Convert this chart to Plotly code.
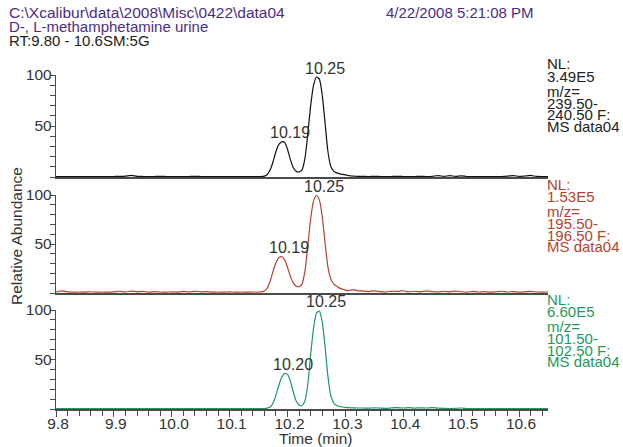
import plotly.graph_objects as go

# ---------------- data ----------------
time_min = [
    9.80, 9.81, 9.82, 9.83, 9.84, 9.85, 9.86, 9.87, 9.88, 9.89,
    9.90, 9.91, 9.92, 9.93, 9.94, 9.95, 9.96, 9.97, 9.98, 9.99,
    10.00, 10.01, 10.02, 10.03, 10.04, 10.05, 10.06, 10.07, 10.08, 10.09,
    10.10, 10.11, 10.12, 10.13, 10.14,
    10.150, 10.155, 10.160, 10.165, 10.170, 10.175, 10.180, 10.185, 10.190, 10.195,
    10.200, 10.205, 10.210, 10.215, 10.220, 10.225, 10.230, 10.235, 10.240, 10.245,
    10.250, 10.255, 10.260, 10.265, 10.270, 10.275, 10.280, 10.285, 10.290, 10.295,
    10.300, 10.305, 10.310, 10.315, 10.320,
    10.33, 10.34, 10.35, 10.36, 10.37, 10.38, 10.39, 10.40, 10.41, 10.42,
    10.43, 10.44, 10.45, 10.46, 10.47, 10.48, 10.49, 10.50, 10.51, 10.52,
    10.53, 10.54, 10.55, 10.56, 10.57, 10.58, 10.59, 10.60, 10.61, 10.62,
    10.63, 10.64, 10.65,
]

# m/z 239.50-240.50 (black, top)
abund_240 = [
    0.5, 0.4, 0.5, 0.4, 0.5, 0.4, 0.5, 0.4, 0.5, 0.4,
    0.5, 0.6, 0.9, 1.6, 0.7, 0.5, 0.4, 0.5, 0.6, 0.5,
    0.4, 0.5, 0.4, 0.5, 0.6, 0.5, 0.4, 0.5, 0.4, 0.5,
    0.4, 0.5, 0.4, 0.5, 0.4,
    0.4, 0.5, 0.8, 2.5, 7.0, 15.0, 25.0, 32.0, 34.5, 34.0,
    27.0, 17.0, 9.0, 5.5, 5.0, 7.0, 18.0, 42.0, 70.0, 90.0,
    98.0, 96.0, 80.0, 52.0, 24.0, 10.0, 5.5, 4.0, 3.0, 2.5,
    2.0, 1.5, 1.0, 0.8, 0.7,
    0.6, 0.5, 0.6, 0.5, 0.4, 0.5, 0.6, 0.5, 0.4, 0.5,
    0.6, 0.5, 0.7, 1.4, 0.6, 1.3, 0.7, 1.2, 0.5, 0.4,
    0.5, 0.4, 0.5, 0.4, 0.5, 0.8, 1.4, 0.6, 1.0, 1.5,
    0.6, 0.5, 0.5,
]

# m/z 195.50-196.50 (red, middle)
abund_196 = [
    1.0, 2.2, 1.2, 0.8, 1.0, 0.9, 1.3, 0.8, 1.0, 0.9,
    1.2, 1.8, 1.0, 2.0, 1.2, 1.7, 0.9, 1.5, 1.0, 0.8,
    1.2, 0.9, 1.6, 1.0, 2.0, 1.1, 1.5, 0.9, 1.0, 0.8,
    1.2, 0.9, 1.0, 0.8, 1.0,
    1.0, 1.2, 2.0, 5.0, 12.0, 22.0, 31.0, 36.0, 37.0, 34.0,
    26.0, 17.0, 10.0, 7.0, 6.5, 9.0, 22.0, 48.0, 76.0, 94.0,
    99.5, 95.0, 78.0, 50.0, 26.0, 14.0, 9.0, 7.0, 5.0, 4.0,
    3.0, 2.5, 3.0, 3.5, 2.5,
    2.0, 1.5, 2.2, 1.4, 1.0, 2.0, 1.6, 2.3, 1.2, 1.8,
    1.1, 2.1, 1.5, 1.0, 1.8, 1.2, 2.0, 1.3, 0.9, 1.7,
    1.0, 1.4, 0.9, 1.3, 1.8, 1.0, 1.5, 0.9, 1.2, 1.6,
    1.0, 0.9, 1.0,
]

# m/z 101.50-102.50 (green, bottom)
abund_102 = [
    0.4, 0.4, 0.5, 0.4, 0.4, 0.5, 0.4, 0.4, 0.5, 0.4,
    0.4, 0.5, 0.4, 0.4, 0.5, 0.4, 0.4, 0.5, 0.4, 0.4,
    0.5, 0.4, 0.4, 0.5, 0.4, 0.4, 0.5, 0.4, 0.4, 0.5,
    0.4, 0.4, 0.5, 0.4, 0.4,
    0.4, 0.4, 0.5, 0.9, 2.0, 6.0, 14.0, 24.0, 32.0, 36.0,
    35.0, 28.0, 17.0, 8.0, 4.0, 3.5, 8.0, 25.0, 55.0, 82.0,
    97.0, 99.0, 88.0, 62.0, 32.0, 13.0, 6.0, 3.5, 2.5, 2.0,
    1.6, 1.4, 1.2, 1.1, 1.0,
    1.0, 0.8, 1.2, 0.9, 0.6, 1.1, 1.4, 1.0, 1.3, 0.9,
    1.2, 1.0, 1.4, 0.8, 0.6, 0.5, 0.6, 1.0, 0.5, 0.4,
    0.4, 0.5, 0.4, 0.4, 0.5, 0.4, 0.4, 0.5, 0.4, 0.4,
    0.5, 0.4, 0.4,
]

x_tick_vals = [9.8, 9.9, 10.0, 10.1, 10.2, 10.3, 10.4, 10.5, 10.6]
x_tick_text = ["9.8", "9.9", "10.0", "10.1", "10.2", "10.3", "10.4", "10.5", "10.6"]
y_tick_vals = [50, 100]
y_tick_text = ["50", "100"]

panel_info = [
    # (values, color, NL, mz lo, mz hi, peak labels [(t, y, text)])
    (abund_240, "#111111", "3.49E5", "239.50-", "240.50 F:", [(10.1925, 34.5, "10.19"), (10.2525, 98.0, "10.25")]),
    (abund_196, "#B4432F", "1.53E5", "195.50-", "196.50 F:", [(10.1905, 37.0, "10.19"), (10.2505, 99.5, "10.25")]),
    (abund_102, "#1B9A5A", "6.60E5", "101.50-", "102.50 F:", [(10.1975, 36.0, "10.20"), (10.2535, 99.0, "10.25")]),
]

# ---------------- layout geometry (in window pixels) ----------------
W, H = 623, 447
L, R, T, B = 56, 548, 75, 409  # plot area in px


def xp(px):
    return (px - L) / (R - L)


def yp(py):
    return (B - py) / (B - T)


# panel (top px, bottom px)
panels_px = [(75, 177), (195, 293), (310, 409)]

FONT = "Liberation Sans, Arial, sans-serif"
AX = "#4a4a4a"
TXT = "#333333"
PURPLE = "#4A2D86"

fig = go.Figure()
layout_axes = {}
annotations = []

for i, ((vals, color, nl, mz1, mz2, peaks), (ptop, pbot)) in enumerate(zip(panel_info, panels_px)):
    idx = i + 1
    xname = "x" if idx == 1 else f"x{idx}"
    yname = "y" if idx == 1 else f"y{idx}"
    fig.add_trace(go.Scatter(
        x=time_min, y=vals, mode="lines", xaxis=xname, yaxis=yname,
        line=dict(color=color, width=1.2, shape="spline", smoothing=0.6),
        showlegend=False, hoverinfo="skip",
    ))
    is_bottom = (i == 2)
    xa = dict(
        domain=[0, 1], anchor=yname, range=[9.8, 10.65], automargin=False,
        showgrid=False, zeroline=False, showline=True, linecolor=AX, linewidth=1.5,
        layer="below traces",
    )
    if is_bottom:
        xa.update(
            tickmode="array", tickvals=x_tick_vals, ticktext=x_tick_text,
            ticks="outside", ticklen=6, tickcolor=AX, tickwidth=1,
            ticklabelstandoff=-6, ticklabelshift=2,
            tickfont=dict(family=FONT, size=15.5, color=TXT),
            minor=dict(dtick=0.02, tick0=9.8, ticks="outside", ticklen=5, tickcolor=AX, tickwidth=1),
        )
    else:
        xa.update(matches="x", showticklabels=False, ticks="")
    ya = dict(
        domain=[yp(pbot), yp(ptop)], anchor=xname, range=[0, 100], automargin=False,
        showgrid=False, zeroline=False, showline=True, linecolor=AX, linewidth=1.2,
        tickmode="array", tickvals=y_tick_vals, ticktext=y_tick_text,
        ticks="outside", ticklen=5, tickcolor=AX, tickwidth=1,
        ticklabelstandoff=-5,
        tickfont=dict(family=FONT, size=15.5, color=TXT),
        minor=dict(dtick=10, tick0=0, ticks="outside", ticklen=5, tickcolor=AX, tickwidth=1),
        layer="below traces",
    )
    layout_axes["xaxis" if idx == 1 else f"xaxis{idx}"] = xa
    layout_axes["yaxis" if idx == 1 else f"yaxis{idx}"] = ya

    # right-hand info block
    txt_color = "#222222" if i == 0 else color
    lines = ["NL:", nl, "m/z=", mz1, mz2, "MS data04"]
    offsets = [0, 12.5, 27, 39.5, 51, 62.5]
    nl_center = ptop - 11
    for ln, off in zip(lines, offsets):
        annotations.append(dict(
            x=1.0, y=yp(nl_center + off), xref="paper", yref="paper",
            xanchor="left", yanchor="middle", text=ln, showarrow=False,
            xshift=-2, borderpad=0,
            font=dict(family=FONT, size=15, color=txt_color),
        ))
    # peak labels
    for (t, v, lab) in peaks:
        annotations.append(dict(
            x=t, y=v, xref=xname, yref=yname, text=lab, showarrow=False,
            xanchor="center", yanchor="middle", xshift=7, yshift=9,
            font=dict(family=FONT, size=16, color=TXT),
        ))

# header texts
header = [
    ("C:\\Xcalibur\\data\\2008\\Misc\\0422\\data04", 8, 13, PURPLE, 15.5),
    ("D-, L-methamphetamine urine", 8, 26.5, PURPLE, 15),
    ("RT:9.80 - 10.6SM:5G", 8, 40, "#222222", 15),
    ("4/22/2008 5:21:08 PM", 385, 13, PURPLE, 15),
]
for text, px, py, c, fs in header:
    annotations.append(dict(
        x=xp(px), y=yp(py), xref="paper", yref="paper", xanchor="left", yanchor="middle",
        text=text, showarrow=False, borderpad=0, font=dict(family=FONT, size=fs, color=c),
    ))

# axis titles
annotations.append(dict(
    x=xp(16), y=yp(236), xref="paper", yref="paper", xanchor="center", yanchor="middle",
    text="Relative Abundance", textangle=-90, showarrow=False,
    font=dict(family=FONT, size=15.5, color=TXT),
))
annotations.append(dict(
    x=xp(315), y=yp(438), xref="paper", yref="paper", xanchor="center", yanchor="middle",
    text="Time (min)", showarrow=False,
    font=dict(family=FONT, size=15.5, color=TXT),
))

fig.update_layout(
    width=W, height=H,
    margin=dict(l=L, r=W - R, t=T, b=H - B, pad=0, autoexpand=False),
    paper_bgcolor="white", plot_bgcolor="white",
    hovermode=False,
    annotations=annotations,
    **layout_axes,
)

# remove the default page margin so the figure fills the window exactly
fig.write_html(
    "out.html",
    config={"displayModeBar": False, "staticPlot": True},
    post_script="document.body.style.margin='0px';",
)
